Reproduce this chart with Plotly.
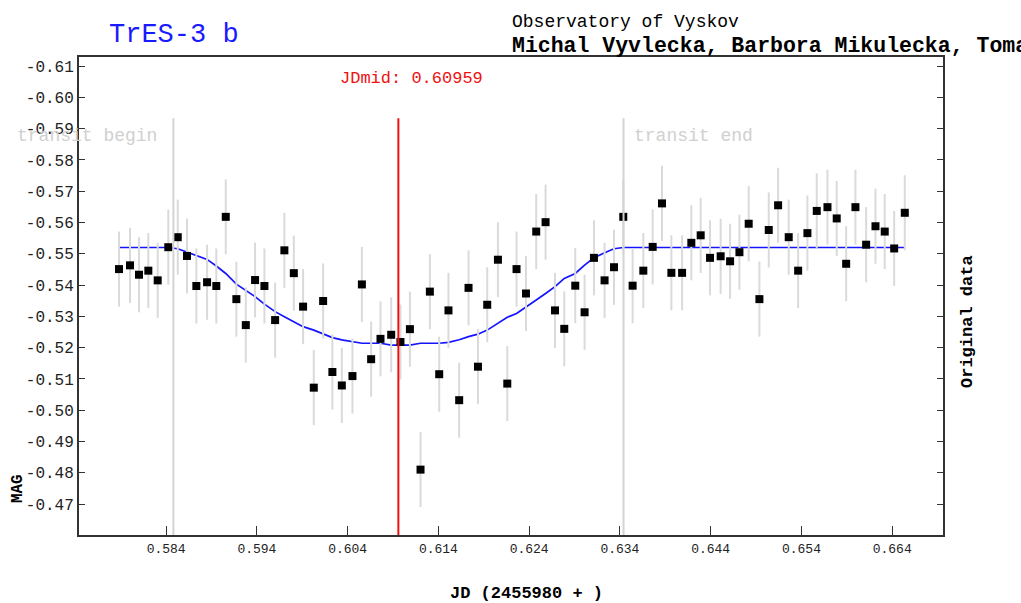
import plotly.graph_objects as go

# Photometry of TrES-3 b (JD offset 2455980)
jd = [
    0.57881, 0.58002, 0.58101, 0.58204, 0.58307, 0.58424, 0.58528, 0.58630, 0.58733, 0.58851,
    0.58953, 0.59057, 0.59174, 0.59278, 0.59380, 0.59483, 0.59601, 0.59703, 0.59807, 0.59909,
    0.60027, 0.60130, 0.60232, 0.60336, 0.60453, 0.60557, 0.60659, 0.60762, 0.60880, 0.60982,
    0.61086, 0.61203, 0.61306, 0.61409, 0.61511, 0.61629, 0.61732, 0.61836, 0.61938, 0.62056,
    0.62159, 0.62261, 0.62365, 0.62478, 0.62581, 0.62685, 0.62787, 0.62908, 0.63011, 0.63114,
    0.63231, 0.63335, 0.63437, 0.63540, 0.63658, 0.63761, 0.63864, 0.63967, 0.64085, 0.64187,
    0.64290, 0.64393, 0.64510, 0.64614, 0.64717, 0.64819, 0.64937, 0.65040, 0.65143, 0.65260,
    0.65364, 0.65466, 0.65569, 0.65687, 0.65789, 0.65893, 0.65995, 0.66113, 0.66216, 0.66318,
    0.66422, 0.66539,
]

mag = [
    -0.5451, -0.5463, -0.5433, -0.5446, -0.5415, -0.5521, -0.5553, -0.5493, -0.5397, -0.5409,
    -0.5397, -0.5618, -0.5355, -0.5272, -0.5416, -0.5397, -0.5288, -0.5511, -0.5438, -0.5331,
    -0.5072, -0.5349, -0.5122, -0.5079, -0.5109, -0.5402, -0.5163, -0.5228, -0.5241, -0.5218,
    -0.5259, -0.4810, -0.5379, -0.5115, -0.5319, -0.5032, -0.5391, -0.5139, -0.5337, -0.5481,
    -0.5085, -0.5451, -0.5373, -0.5571, -0.5601, -0.5319, -0.5260, -0.5398, -0.5313, -0.5487,
    -0.5415, -0.5457, -0.5618, -0.5398, -0.5446, -0.5522, -0.5661, -0.5439, -0.5439, -0.5535,
    -0.5559, -0.5487, -0.5492, -0.5476, -0.5505, -0.5596, -0.5355, -0.5576, -0.5655, -0.5553,
    -0.5446, -0.5566, -0.5637, -0.5649, -0.5613, -0.5468, -0.5649, -0.5529, -0.5588, -0.5571,
    -0.5517, -0.5631,
]

mag_err = [
    0.012, 0.012, 0.012, 0.012, 0.012, 0.012, 0.012, 0.012, 0.012, 0.012,
    0.012, 0.012, 0.012, 0.012, 0.012, 0.012, 0.012, 0.012, 0.012, 0.012,
    0.012, 0.012, 0.012, 0.012, 0.012, 0.012, 0.012, 0.012, 0.012, 0.012,
    0.012, 0.012, 0.012, 0.012, 0.012, 0.012, 0.012, 0.012, 0.012, 0.012,
    0.012, 0.012, 0.012, 0.012, 0.012, 0.012, 0.012, 0.012, 0.012, 0.012,
    0.012, 0.012, 0.012, 0.012, 0.012, 0.012, 0.012, 0.012, 0.012, 0.012,
    0.012, 0.012, 0.012, 0.012, 0.012, 0.012, 0.012, 0.012, 0.012, 0.012,
    0.012, 0.012, 0.012, 0.012, 0.012, 0.012, 0.012, 0.012, 0.012, 0.012,
    0.012, 0.012,
]

# Fitted transit model evaluated at each observation time
model = [
    -0.5520, -0.5520, -0.5520, -0.5520, -0.5520, -0.5520, -0.5516, -0.5506, -0.5496, -0.5482,
    -0.5461, -0.5437, -0.5403, -0.5382, -0.5363, -0.5339, -0.5315, -0.5299, -0.5284, -0.5267,
    -0.5256, -0.5244, -0.5232, -0.5225, -0.5218, -0.5214, -0.5214, -0.5214, -0.5208, -0.5208,
    -0.5208, -0.5214, -0.5214, -0.5214, -0.5217, -0.5225, -0.5235, -0.5243, -0.5256, -0.5278,
    -0.5297, -0.5309, -0.5331, -0.5352, -0.5373, -0.5395, -0.5421, -0.5437, -0.5464, -0.5487,
    -0.5503, -0.5516, -0.5520, -0.5520, -0.5520, -0.5520, -0.5520, -0.5520, -0.5520, -0.5520,
    -0.5520, -0.5520, -0.5520, -0.5520, -0.5520, -0.5520, -0.5520, -0.5520, -0.5520, -0.5520,
    -0.5520, -0.5520, -0.5520, -0.5520, -0.5520, -0.5520, -0.5520, -0.5520, -0.5520, -0.5520,
    -0.5520, -0.5520,
]

transit_begin = 0.5848
transit_end = 0.6344
jd_mid = 0.60959

x_ticks = [0.584, 0.594, 0.604, 0.614, 0.624, 0.634, 0.644, 0.654, 0.664]
y_ticks = [-0.61, -0.60, -0.59, -0.58, -0.57, -0.56, -0.55, -0.54, -0.53, -0.52,
           -0.51, -0.50, -0.49, -0.48, -0.47]

MONO = "Liberation Mono, DejaVu Sans Mono, monospace"

fig = go.Figure()

fig.add_trace(go.Scatter(
    x=jd, y=model, mode="lines",
    line=dict(color="#1414ff", width=1.7),
    hoverinfo="skip", showlegend=False,
))

fig.add_trace(go.Scatter(
    x=jd, y=mag, mode="markers",
    marker=dict(symbol="square", size=8, color="black"),
    error_y=dict(type="data", array=mag_err, color="#dadada", thickness=2, width=0),
    showlegend=False,
))

# Transit boundaries and mid-time markers
line_top = 0.872
for xv, col in [(transit_begin, "#d4d4d4"), (transit_end, "#d4d4d4"), (jd_mid, "#ee1111")]:
    fig.add_shape(type="line", xref="x", yref="paper", x0=xv, x1=xv, y0=0, y1=line_top,
                  line=dict(color=col, width=2), layer="above")


def label(text, x, y, xref="paper", xanchor="center", size=17, color="black",
          angle=0, xshift=0):
    fig.add_annotation(x=x, y=y, xref=xref, yref="paper", text=text, showarrow=False,
                       xanchor=xanchor, yanchor="middle", textangle=angle, xshift=xshift,
                       font=dict(family=MONO, size=size, color=color))


label("JDmid: 0.60959", jd_mid, 0.956, xref="x", xanchor="left", xshift=-60,
      color="#ee1111")
label("transit begin", transit_begin, 0.835, xref="x", xanchor="right", xshift=-14,
      size=18, color="#d0d0d0")
label("transit end", transit_end, 0.835, xref="x", xanchor="left", xshift=8,
      size=18, color="#d0d0d0")

# Header texts
label("TrES-3 b", 0.0324, 1.046, xanchor="left", size=27, color="#1a1aff")
label("Observatory of Vyskov", 0.4988, 1.073, xanchor="left", size=18)
label("<b>Michal Vyvlecka, Barbora Mikulecka, Tomas</b>", 0.4988, 1.023,
      xanchor="left", size=21.5)

# Axis captions
label("<b>MAG</b>", -0.0706, 0.096, size=16, angle=-90)
label("<b>Original data</b>", 1.0278, 0.4456, size=17, angle=-90)
label("<b>JD (2455980 + )</b>", 0.5185, -0.123, size=17)

fig.update_layout(
    width=1021, height=603,
    margin=dict(l=79, r=78, t=57, b=68),
    paper_bgcolor="white", plot_bgcolor="white",
    xaxis=dict(
        range=[0.5744, 0.6696], tickvals=x_ticks, ticktext=[f"{v:.3f}" for v in x_ticks],
        ticks="inside", ticklen=9, tickwidth=1, tickcolor="#333",
        showline=True, linecolor="#333", linewidth=2, mirror=True,
        showgrid=False, zeroline=False,
        tickfont=dict(family=MONO, size=13, color="#222"),
    ),
    yaxis=dict(
        range=[-0.4601, -0.6129], tickvals=y_ticks, ticktext=[f"{v:.2f}" for v in y_ticks],
        ticks="inside", ticklen=6, tickwidth=1, tickcolor="#333",
        showline=True, linecolor="#333", linewidth=2, mirror="ticks",
        showgrid=False, zeroline=False,
        tickfont=dict(family=MONO, size=16, color="#222"),
    ),
)

fig.write_html("out.html")
